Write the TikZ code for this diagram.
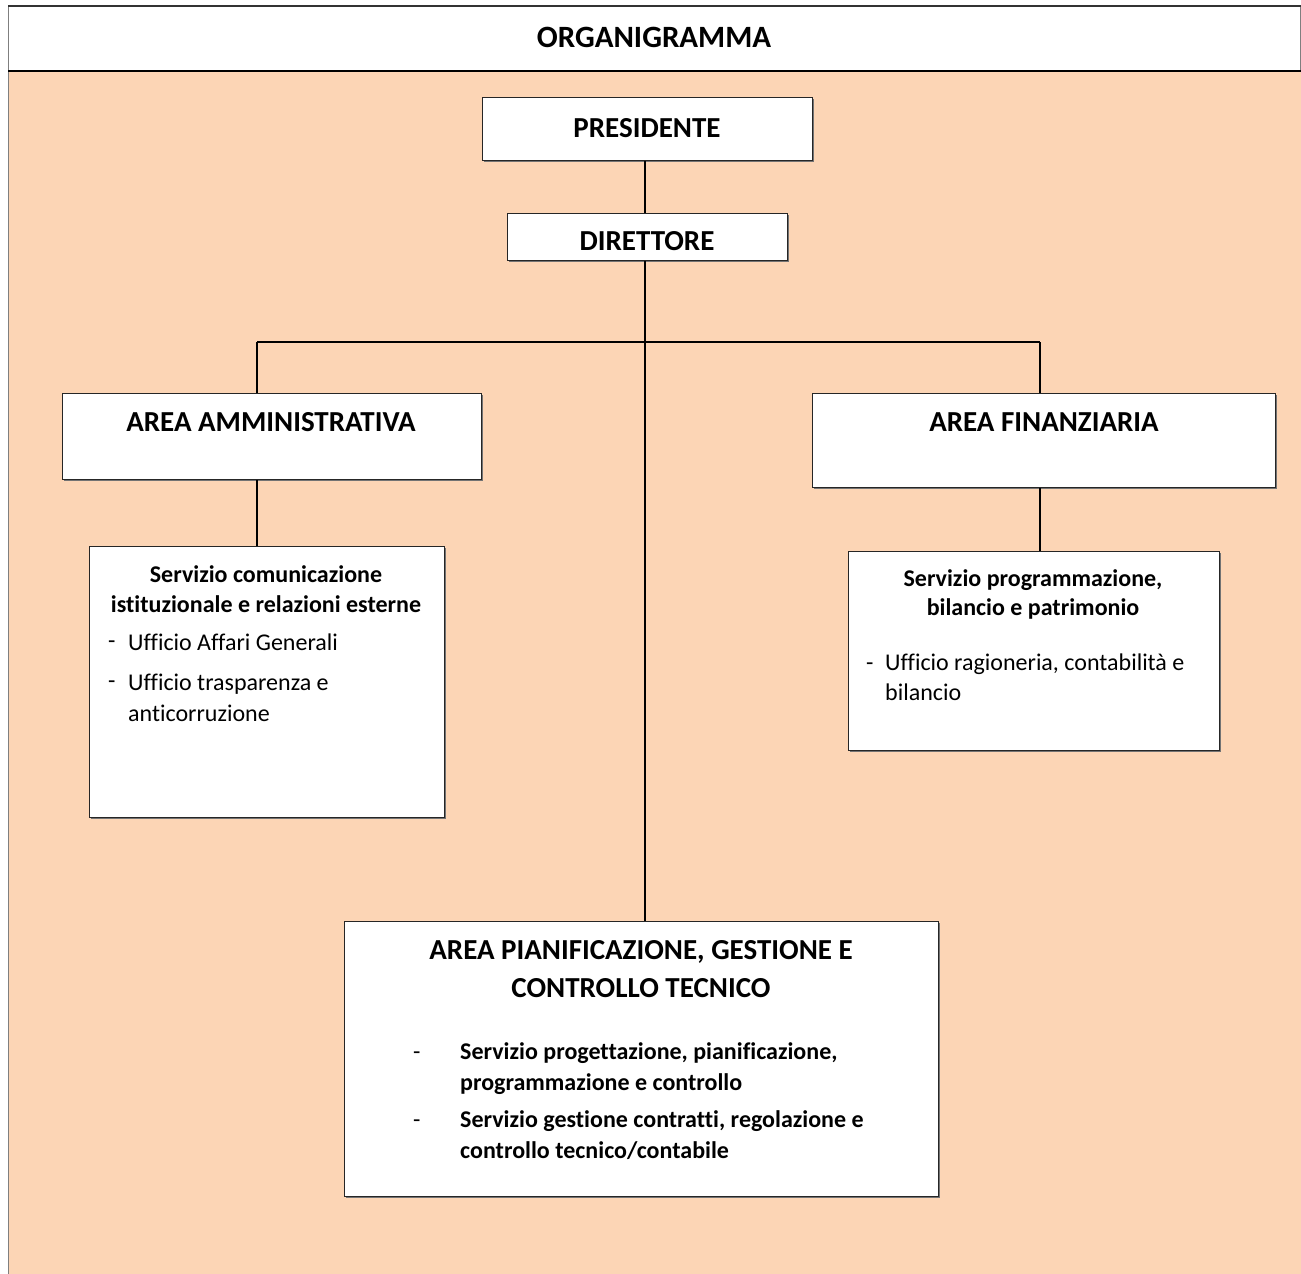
\documentclass[tikz,border=0pt]{standalone}
\usepackage{fontspec}
\setmainfont{Carlito}[Ligatures={NoCommon}]
\usetikzlibrary{shadows}
\definecolor{peach}{HTML}{FCD5B5}
\definecolor{frame}{HTML}{7F7F7F}
\begin{document}
\begin{tikzpicture}[x=1pt,y=-1pt,
  box/.style={draw=black!85,line width=1.1pt,fill=white,inner sep=0pt,anchor=north west,
    drop shadow={shadow xshift=1.6pt,shadow yshift=-1.6pt,fill=black!55,opacity=1}},
  conn/.style={draw=black,line width=2pt},
  head/.style={font=\fontsize{29}{35}\selectfont\bfseries,anchor=base,inner sep=0pt},
  title/.style={font=\fontsize{31}{37}\selectfont\bfseries,anchor=base,inner sep=0pt},
  sub/.style={font=\fontsize{24}{29}\selectfont\bfseries,anchor=base,inner sep=0pt},
  item/.style={font=\fontsize{24}{29}\selectfont,anchor=base west,inner sep=0pt},
  bitem/.style={font=\fontsize{24}{29}\selectfont\bfseries,anchor=base west,inner sep=0pt}]
\useasboundingbox (0,0) rectangle (1301,1274);
% background panels
\fill[peach] (8,70) rectangle (1301,1274);
\draw[frame,line width=1pt] (8,1274) -- (8,70);
\node[draw=frame,line width=1pt,fill=white,anchor=north west,inner sep=0pt,
  minimum width=1292pt,minimum height=64pt] (hdr) at (8,6) {};
\draw[black,line width=1.6pt] (hdr.south west) -- (hdr.south east);
\draw[black!80,line width=1.2pt] (hdr.north west) -- (hdr.north east);
\node[title] (htxt) at (654,47) {ORGANIGRAMMA};
% boxes
\node[box,minimum width=330pt,minimum height=63pt] (pres) at (482,97) {};
\node[box,minimum width=280pt,minimum height=47pt] (dir) at (507,213) {};
\node[box,minimum width=419pt,minimum height=86pt] (amm) at (62,393) {};
\node[box,minimum width=463pt,minimum height=94pt] (fin) at (812,393) {};
\node[box,minimum width=355pt,minimum height=271pt] (scom) at (89,546) {};
\node[box,minimum width=371pt,minimum height=199pt] (sprog) at (848,551) {};
\node[box,minimum width=594pt,minimum height=275pt] (pian) at (344,921) {};
% connectors
\coordinate (jl) at (257,342);
\coordinate (jr) at (1040,342);
\coordinate (jc) at (645,342);
\draw[conn] (pres.south -| jc) -- (dir.north -| jc);
\draw[conn] (dir.south -| jc) -- (pian.north -| jc);
\draw[conn] (jl) -- (jr);
\draw[conn] (jl) -- (jl |- amm.north);
\draw[conn] (jr) -- (jr |- fin.north);
\draw[conn] (jl |- amm.south) -- (jl |- scom.north);
\draw[conn] (jr |- fin.south) -- (jr |- sprog.north);
% texts
\node[head] (tpres) at (647,137) {PRESIDENTE};
\node[head] (tdir) at (647,250) {DIRETTORE};
\node[head] (tamm) at (271,431) {AREA AMMINISTRATIVA};
\node[head] (tfin) at (1044,431) {AREA FINANZIARIA};
% left service box
\node[sub] (s1a) at (266,582) {Servizio comunicazione};
\node[sub] (s1b) at (266,612) {istituzionale e relazioni esterne};
\node[item] (d1) at (108,648) {-};
\node[item] (u1) at (128,650) {Ufficio Affari Generali};
\node[item] (d2) at (108,688) {-};
\node[item] (u2) at (128,690) {Ufficio trasparenza e};
\node[item] (u2b) at (128,721) {anticorruzione};
% right service box
\node[sub] (s2a) at (1033,586) {Servizio programmazione,};
\node[sub] (s2b) at (1033,615) {bilancio e patrimonio};
\node[item] (d3) at (866,670) {-};
\node[item] (u3) at (885,670) {Ufficio ragioneria, contabilità e};
\node[item] (u3b) at (885,700) {bilancio};
% bottom area
\node[head] (p1) at (641,959) {AREA PIANIFICAZIONE, GESTIONE E};
\node[head] (p2) at (641,997) {CONTROLLO TECNICO};
\node[item] (d4) at (413,1059) {-};
\node[bitem] (b1) at (460,1059) {Servizio progettazione, pianificazione,};
\node[bitem] (b1b) at (460,1090) {programmazione e controllo};
\node[item] (d5) at (413,1127) {-};
\node[bitem] (b2) at (460,1127) {Servizio gestione contratti, regolazione e};
\node[bitem] (b2b) at (460,1158) {controllo tecnico/contabile};
\end{tikzpicture}
\end{document}
